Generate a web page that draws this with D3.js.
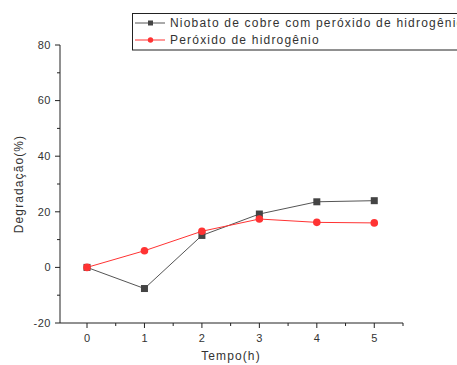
<!DOCTYPE html>
<html>
<head>
<meta charset="utf-8">
<script src="https://cdn.jsdelivr.net/npm/d3@7"></script>
<style>
  body { margin: 0; background: #fff; }
  text { font-family: "Liberation Sans", Arial, sans-serif; fill: #333; }
</style>
</head>
<body>
<div id="chart"></div>
<script>
// data
const hours = [0, 1, 2, 3, 4, 5];
const niobato = [0, -7.6, 11.5, 19.2, 23.6, 24];
const peroxido = [0, 6, 13, 17.4, 16.2, 16];
const seriesNames = ["Niobato de cobre com peróxido de hidrogênio", "Peróxido de hidrogênio"];
const xTicks = [0, 1, 2, 3, 4, 5];
const yTicks = [-20, 0, 20, 40, 60, 80];

const width = 457, height = 365;
const svg = d3.select("#chart").append("svg")
    .attr("width", width)
    .attr("height", height);

const x = d3.scaleLinear().domain([-0.47, 5.5]).range([60, 403]);
const y = d3.scaleLinear().domain([-20, 80]).range([323, 45]);

// x axis
const xAxis = svg.append("g")
    .attr("transform", "translate(0," + y(-20) + ")");
xAxis.append("line")
    .attr("x1", 60).attr("x2", 403)
    .attr("stroke", "#222");
xAxis.selectAll(".minor")
    .data(d3.range(-0.5, 5.51, 0.5).filter(d => d >= -0.47 && !Number.isInteger(d)))
    .enter().append("line")
    .attr("x1", d => x(d)).attr("x2", d => x(d))
    .attr("y1", 0).attr("y2", 3)
    .attr("stroke", "#222");
xAxis.selectAll(".major")
    .data(xTicks)
    .enter().append("line")
    .attr("x1", d => x(d)).attr("x2", d => x(d))
    .attr("y1", 0).attr("y2", 5)
    .attr("stroke", "#222");
xAxis.selectAll(".lbl")
    .data(xTicks)
    .enter().append("text")
    .attr("x", d => x(d))
    .attr("y", 19)
    .attr("text-anchor", "middle")
    .style("font-size", "11px")
    .text(d => d);

// y axis
const yAxis = svg.append("g")
    .attr("transform", "translate(60,0)");
yAxis.append("line")
    .attr("y1", y(80)).attr("y2", y(-20))
    .attr("stroke", "#222");
yAxis.selectAll(".minor")
    .data(d3.range(-10, 80, 20))
    .enter().append("line")
    .attr("y1", d => y(d)).attr("y2", d => y(d))
    .attr("x1", 0).attr("x2", -3)
    .attr("stroke", "#222");
yAxis.selectAll(".major")
    .data(yTicks)
    .enter().append("line")
    .attr("y1", d => y(d)).attr("y2", d => y(d))
    .attr("x1", 0).attr("x2", -5)
    .attr("stroke", "#222");
yAxis.selectAll(".lbl")
    .data(yTicks)
    .enter().append("text")
    .attr("x", -9)
    .attr("y", d => y(d))
    .attr("dy", "0.35em")
    .attr("text-anchor", "end")
    .style("font-size", "11px")
    .style("letter-spacing", "0.5px")
    .text(d => d);

// axis titles
svg.append("text")
    .attr("x", 231)
    .attr("y", 360)
    .attr("text-anchor", "middle")
    .style("font-size", "12px")
    .style("letter-spacing", "1.1px")
    .text("Tempo(h)");
svg.append("text")
    .attr("transform", "translate(23," + 184 + ") rotate(-90)")
    .attr("text-anchor", "middle")
    .style("font-size", "12px")
    .style("letter-spacing", "1.1px")
    .text("Degradação(%)");

// lines
const line = d3.line()
    .x((d, i) => x(hours[i]))
    .y(d => y(d));

svg.append("path")
    .datum(niobato)
    .attr("d", line)
    .attr("fill", "none")
    .attr("stroke", "#555")
    .attr("stroke-width", 1);
svg.append("path")
    .datum(peroxido)
    .attr("d", line)
    .attr("fill", "none")
    .attr("stroke", "#ff3333")
    .attr("stroke-width", 1);

svg.selectAll(".sq")
    .data(niobato)
    .enter().append("rect")
    .attr("x", (d, i) => x(hours[i]) - 3.5)
    .attr("y", d => y(d) - 3.5)
    .attr("width", 7).attr("height", 7)
    .attr("fill", "#444");
svg.selectAll(".dot")
    .data(peroxido)
    .enter().append("circle")
    .attr("cx", (d, i) => x(hours[i]))
    .attr("cy", d => y(d))
    .attr("r", 3.8)
    .attr("fill", "#ff3333");

// legend
const legend = svg.append("g");
legend.append("rect")
    .attr("x", 132.5).attr("y", 13.5)
    .attr("width", 340).attr("height", 36.5)
    .attr("fill", "#fff")
    .attr("stroke", "#222");
const legendColor = ["#444", "#ff3333"];
seriesNames.forEach((name, i) => {
    const cy = 23 + i * 17;
    legend.append("line")
        .attr("x1", 135).attr("x2", 165)
        .attr("y1", cy).attr("y2", cy)
        .attr("stroke", i === 0 ? "#555" : "#ff3333");
    if (i === 0) {
        legend.append("rect")
            .attr("x", 148).attr("y", cy - 2.5)
            .attr("width", 5).attr("height", 5)
            .attr("fill", legendColor[i]);
    } else {
        legend.append("circle")
            .attr("cx", 150.5).attr("cy", cy).attr("r", 2.7)
            .attr("fill", legendColor[i]);
    }
    legend.append("text")
        .attr("x", 170)
        .attr("y", cy)
        .attr("dy", "0.35em")
        .style("font-size", "12px")
        .style("letter-spacing", "1.2px")
        .text(name);
});
</script>
</body>
</html>
